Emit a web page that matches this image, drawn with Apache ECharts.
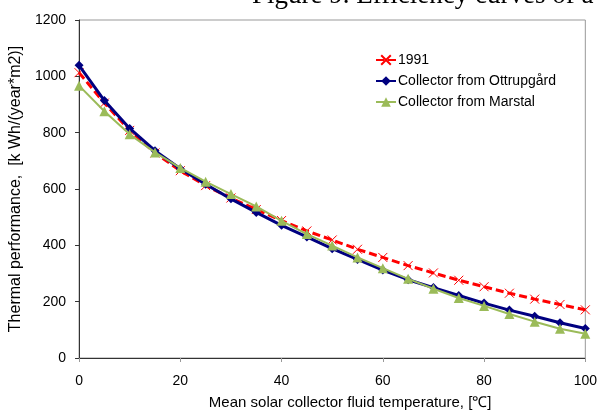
<!DOCTYPE html>
<html>
<head>
<meta charset="utf-8">
<script src="https://cdn.jsdelivr.net/npm/echarts@6/dist/echarts.min.js"></script>
<style>html,body{margin:0;padding:0;background:#fff;}#c{width:600px;height:415px;}</style>
</head>
<body>
<div id="c"></div>
<script>
var temps = [0,5,10,15,20,25,30,35,40,45,50,55,60,65,70,75,80,85,90,95,100];
var s1991 = [1013,905,808,728,665,612,568,527,488,451,419,386,357,328,302,276,253,230,209,190,171];
var sOttrup = [1039,914,815,736,672,617,565,517,471,430,388,350,312,278,250,222,195,170,148,125,105];
var sMarstal = [967,876,794,730,675,626,582,538,487,440,399,357,319,281,246,213,185,156,129,104,86];
var names = ['1991','Collector from Ottrupgård','Collector from Marstal'];
var yTicks = [0,200,400,600,800,1000,1200];
var xTicks = [0,20,40,60,80,100];

function pairs(v){ return temps.map(function(t,i){ return [t, v[i]]; }); }
var F = 'Liberation Sans, Arial, sans-serif';
var chart = echarts.init(document.getElementById('c'), null, {renderer:'canvas'});
var xSym = 'path://M0,0L10,10M10,0L0,10';
chart.setOption({
  animation:false,
  backgroundColor:'#fff',
  graphic:[{type:'text', left:252, top:-18, style:{text:'Figure 9. Efficiency curves of a', font:'27px "Liberation Serif", "Times New Roman", serif', fill:'#000'}}],
  grid:{left:79, right:12, top:20, bottom:52, show:true, borderColor:'#999', borderWidth:1, backgroundColor:'transparent'},
  legend:{
    left:370, top:48, orient:'vertical', itemGap:7, itemWidth:20, itemHeight:12,
    textStyle:{fontFamily:F, fontSize:14, color:'#000', padding:[0,0,0,-3]},
    data:names
  },
  xAxis:{
    type:'value', min:xTicks[0], max:xTicks[xTicks.length-1], interval:20,
    name:'Mean solar collector fluid temperature, [℃]', nameLocation:'middle', nameGap:37,
    nameTextStyle:{fontFamily:F, fontSize:15, color:'#000', padding:[0,0,0,36]},
    axisLine:{show:true, lineStyle:{color:'#333', width:1}},
    axisTick:{show:true, length:4, lineStyle:{color:'#999'}},
    axisLabel:{fontFamily:F, fontSize:14, color:'#000', margin:16},
    splitLine:{show:false}
  },
  yAxis:{
    type:'value', min:yTicks[0], max:yTicks[yTicks.length-1], interval:200,
    name:'Thermal performance,  [k Wh/(year*m2)]', nameLocation:'middle', nameGap:54,
    nameTextStyle:{fontFamily:F, fontSize:16, color:'#000'},
    axisLine:{show:true, lineStyle:{color:'#333', width:1}},
    axisTick:{show:true, length:4, lineStyle:{color:'#333'}},
    axisLabel:{fontFamily:F, fontSize:14, color:'#000', margin:13, formatter:function(v){return String(v);}},
    splitLine:{show:false}
  },
  series:[
    {name:names[0], type:'line', data:pairs(s1991), symbol:xSym, symbolSize:9,
     lineStyle:{color:'#FF0000', width:3, type:[8,4]},
     itemStyle:{color:'transparent', borderColor:'#FF0000', borderWidth:1}, z:2},
    {name:names[1], type:'line', data:pairs(sOttrup), symbol:'diamond', symbolSize:9,
     lineStyle:{color:'#000080', width:3},
     itemStyle:{color:'#000080', borderWidth:0}, z:3},
    {name:names[2], type:'line', data:pairs(sMarstal), symbol:'triangle', symbolSize:10,
     lineStyle:{color:'#9BBB59', width:2},
     itemStyle:{color:'#9BBB59', borderWidth:0}, z:4}
  ]
});
</script>
</body>
</html>
